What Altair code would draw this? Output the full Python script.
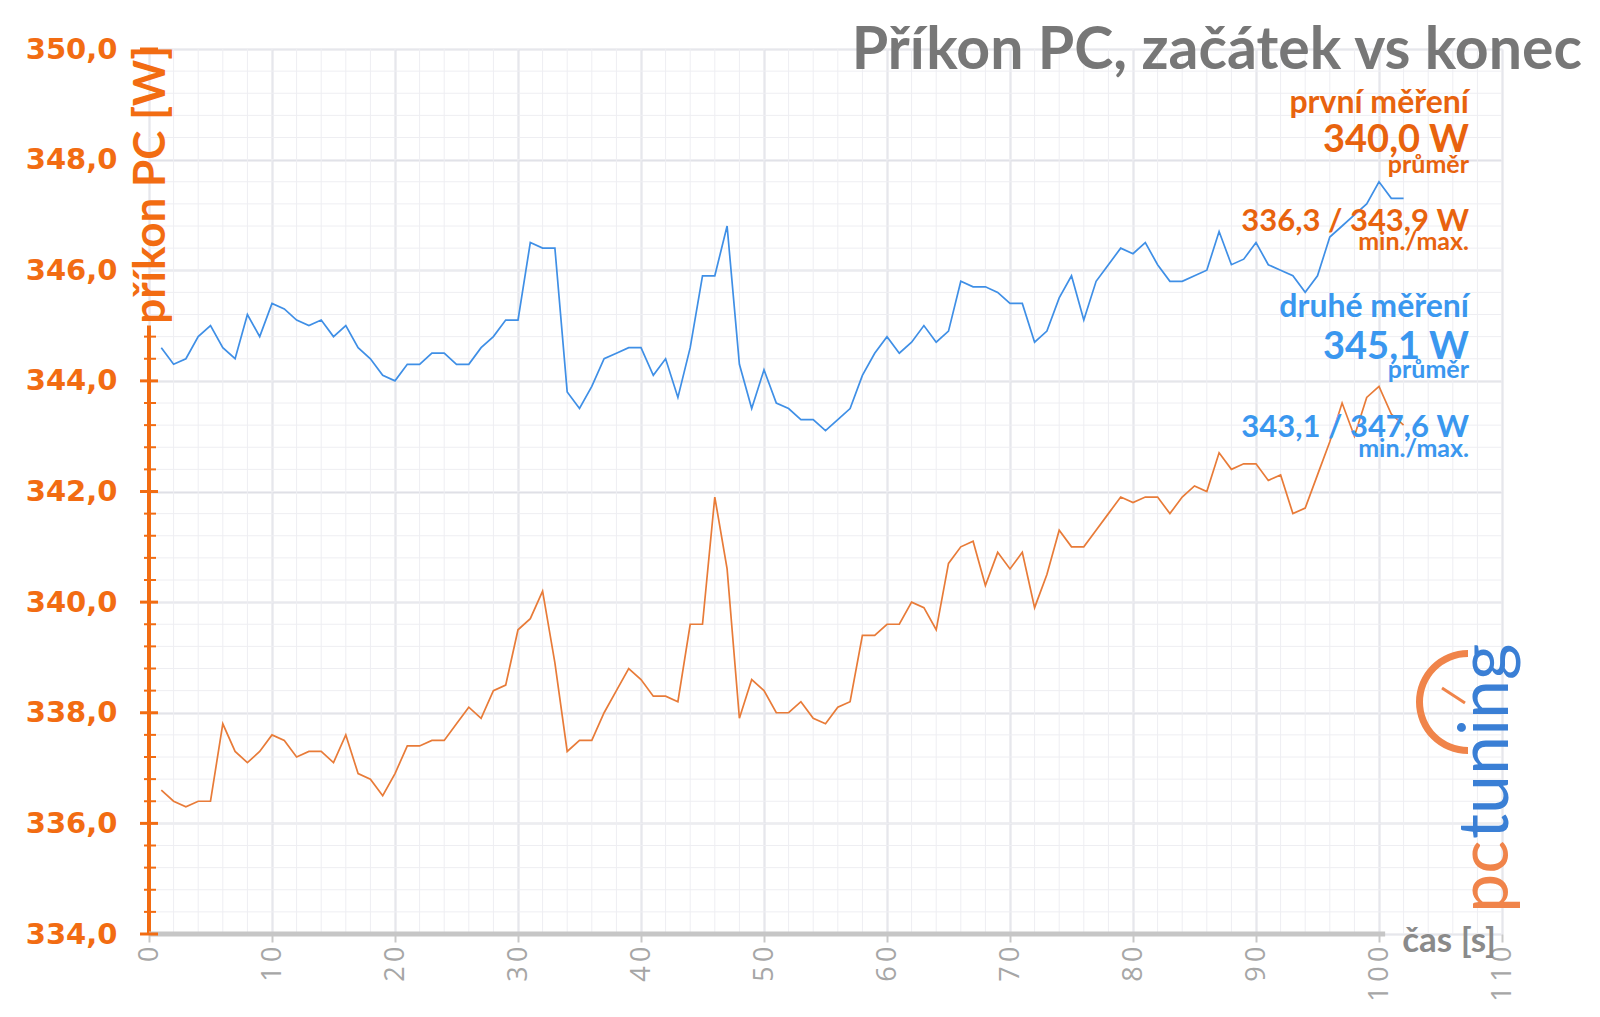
import altair as alt
import pandas as pd
import numpy as np

# ---------------- data ----------------
seconds = list(range(1, 103))

first_run = [  # první měření (orange)
    336.6, 336.4, 336.3, 336.4, 336.4, 337.8, 337.3, 337.1, 337.3, 337.6,
    337.5, 337.2, 337.3, 337.3, 337.1, 337.6, 336.9, 336.8, 336.5, 336.9,
    337.4, 337.4, 337.5, 337.5, 337.8, 338.1, 337.9, 338.4, 338.5, 339.5,
    339.7, 340.2, 338.9, 337.3, 337.5, 337.5, 338.0, 338.4, 338.8, 338.6,
    338.3, 338.3, 338.2, 339.6, 339.6, 341.9, 340.6, 337.9, 338.6, 338.4,
    338.0, 338.0, 338.2, 337.9, 337.8, 338.1, 338.2, 339.4, 339.4, 339.6,
    339.6, 340.0, 339.9, 339.5, 340.7, 341.0, 341.1, 340.3, 340.9, 340.6,
    340.9, 339.9, 340.5, 341.3, 341.0, 341.0, 341.3, 341.6, 341.9, 341.8,
    341.9, 341.9, 341.6, 341.9, 342.1, 342.0, 342.7, 342.4, 342.5, 342.5,
    342.2, 342.3, 341.6, 341.7, 342.3, 342.9, 343.6, 343.0, 343.7, 343.9,
    343.4, 343.2,
]

second_run = [  # druhé měření (blue)
    344.6, 344.3, 344.4, 344.8, 345.0, 344.6, 344.4, 345.2, 344.8, 345.4,
    345.3, 345.1, 345.0, 345.1, 344.8, 345.0, 344.6, 344.4, 344.1, 344.0,
    344.3, 344.3, 344.5, 344.5, 344.3, 344.3, 344.6, 344.8, 345.1, 345.1,
    346.5, 346.4, 346.4, 343.8, 343.5, 343.9, 344.4, 344.5, 344.6, 344.6,
    344.1, 344.4, 343.7, 344.6, 345.9, 345.9, 346.8, 344.3, 343.5, 344.2,
    343.6, 343.5, 343.3, 343.3, 343.1, 343.3, 343.5, 344.1, 344.5, 344.8,
    344.5, 344.7, 345.0, 344.7, 344.9, 345.8, 345.7, 345.7, 345.6, 345.4,
    345.4, 344.7, 344.9, 345.5, 345.9, 345.1, 345.8, 346.1, 346.4, 346.3,
    346.5, 346.1, 345.8, 345.8, 345.9, 346.0, 346.7, 346.1, 346.2, 346.5,
    346.1, 346.0, 345.9, 345.6, 345.9, 346.6, 346.8, 347.0, 347.2, 347.6,
    347.3, 347.3,
]

x_ticks = list(range(0, 111, 10))
y_ticks = list(range(334, 351, 2))

title_text = "Příkon PC, začátek vs konec"
y_title = "příkon PC [W]"
x_title = "čas [s]"
first_labels = ["první měření", "340,0 W", "průměr", "336,3 / 343,9 W", "min./max."]
second_labels = ["druhé měření", "345,1 W", "průměr", "343,1 / 347,6 W", "min./max."]

# ---------------- style ----------------
W, H = 1353, 885
ORANGE_AX = "#f26c12"
ORANGE_TXT = "#e8630e"
ORANGE_LINE = "#e87b38"
BLUE_TXT = "#3a97ef"
BLUE_LINE = "#3f8fe6"
GRID_MAJOR = "#dfe0e6"
GRID_MINOR = "#eeeef2"

xscale = alt.Scale(domain=[0, 110], nice=False, zero=False)
yscale = alt.Scale(domain=[334, 350], nice=False, zero=False)

x_axis = alt.Axis(
    values=x_ticks, title=None, labelAngle=270, labelFlush=False, labelOverlap=False,
    labelExpr="join(split(datum.label, ''), '\u2009')",
    labelFont="Open Sans", labelFontSize=27, labelColor="#a6a6a6",
    tickColor="#c8c8c8", tickSize=8, tickWidth=2, labelPadding=4,
    domain=False, grid=True, gridColor=GRID_MAJOR, gridWidth=2,
)
y_axis = alt.Axis(
    values=y_ticks, title=None,
    labelExpr="replace(format(datum.value, '.1f'), '.', ',')",
    labelFont="DejaVu Sans", labelFontWeight="bold", labelFontSize=29,
    labelColor=ORANGE_AX, labelPadding=32, ticks=False, tickSize=0,
    domain=False, grid=True, gridColor=GRID_MAJOR, gridWidth=2,
)


def X(field):
    return alt.X(field, type="quantitative", scale=xscale, axis=x_axis)


def Y(field):
    return alt.Y(field, type="quantitative", scale=yscale, axis=y_axis)


# minor grid
gx = pd.DataFrame({"gx": np.arange(0, 111, 2)})
gy = pd.DataFrame({"gy": np.round(np.arange(334, 350.001, 0.4), 1)})
vgrid = alt.Chart(gx).mark_rule(color=GRID_MINOR, strokeWidth=1).encode(x=X("gx"))
hgrid = alt.Chart(gy).mark_rule(color=GRID_MINOR, strokeWidth=1).encode(y=Y("gy"))

df = pd.DataFrame({"t": seconds, "first": first_run, "second": second_run})
line_first = alt.Chart(df).mark_line(color=ORANGE_LINE, strokeWidth=1.7).encode(x=X("t"), y=Y("first"))
line_second = alt.Chart(df).mark_line(color=BLUE_LINE, strokeWidth=1.7).encode(x=X("t"), y=Y("second"))

# axis lines
y_line = alt.Chart(pd.DataFrame({"a": [334], "b": [345.0]})).mark_rule(
    color=ORANGE_AX, strokeWidth=4).encode(x=alt.value(0), y=Y("a"), y2=alt.Y2("b"))
x_line = alt.Chart(pd.DataFrame({"a": [0], "b": [100.5]})).mark_rule(
    color="#c6c6c6", strokeWidth=5).encode(y=alt.value(H), x=X("a"), x2=alt.X2("b"))

major_t = pd.DataFrame({"v": [v for v in y_ticks if v <= 345 or v == 350]})
minor_vals = [round(v, 1) for v in np.arange(334, 345.001, 0.4) if abs(v / 2 - round(v / 2)) > 1e-6]
minor_t = pd.DataFrame({"v": minor_vals})
ticks_major = alt.Chart(major_t).mark_rule(color=ORANGE_AX, strokeWidth=3).encode(
    y=Y("v"), x=alt.value(-9), x2=alt.value(9))
ticks_minor = alt.Chart(minor_t).mark_rule(color=ORANGE_AX, strokeWidth=2).encode(
    y=Y("v"), x=alt.value(-5), x2=alt.value(7))


def label(txt, x, y, size, color, align="right", font="Lato", weight="bold",
          angle=0, baseline="alphabetic"):
    return alt.Chart(pd.DataFrame({"s": [txt]})).mark_text(
        align=align, baseline=baseline, font=font, fontWeight=weight,
        fontSize=size, color=color, angle=angle,
    ).encode(x=alt.value(x), y=alt.value(y), text="s:N")


texts = [
    label(title_text, 1433, 20, 59, "#777777"),
    label(y_title, 3, -3, 44, ORANGE_AX, align="right", angle=270, baseline="middle"),
    label(x_title, 1347, 903, 35, "#8a8a8a"),
]
sizes = [32, 38, 25, 31, 25]
ys1 = [64, 103, 124, 182, 201]
ys2 = [268, 310, 329, 388, 408]
for t, yy, s in zip(first_labels, ys1, sizes):
    texts.append(label(t, 1320, yy, s, ORANGE_TXT))
for t, yy, s in zip(second_labels, ys2, sizes):
    texts.append(label(t, 1320, yy, s, BLUE_TXT))

# logo
logo_arc = alt.Chart(pd.DataFrame({"s": [0]})).mark_arc(
    color="#f0844a", radius=52, radius2=45, theta=3.1416, theta2=6.2832
).encode(x=alt.value(1319), y=alt.value(653))
logo_needle = alt.Chart(pd.DataFrame({"s": [0]})).mark_rule(
    color="#f0844a", strokeWidth=3).encode(
    x=alt.value(1316), y=alt.value(654), x2=alt.value(1293), y2=alt.value(639))
texts += [
    logo_arc, logo_needle,
    label("pc", 1359, 864, 70, "#f0844a", align="left", angle=270, weight="normal"),
    label("tuning", 1359, 790, 70, "#3a7fd5", align="left", angle=270, weight="normal"),
]

chart = alt.layer(
    vgrid, hgrid, line_second, line_first, y_line, x_line, ticks_major, ticks_minor, *texts
).properties(
    width=W, height=H,
    autosize=alt.AutoSizeParams(type="none"),
    padding={"left": 149, "top": 49, "right": 98, "bottom": 83},
    background="white",
).configure_view(stroke=None)

chart.save("out.html", embed_options={"renderer": "svg", "actions": False})
